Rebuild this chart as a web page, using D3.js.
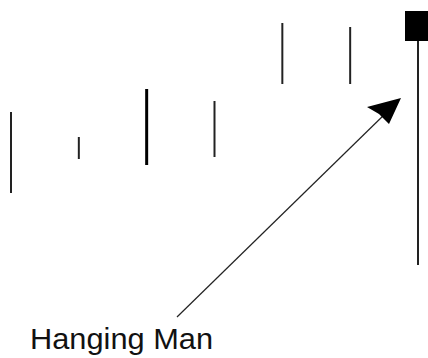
<!DOCTYPE html>
<html>
<head>
<meta charset="utf-8">
<script src="https://cdn.jsdelivr.net/npm/d3@7"></script>
<style>
html,body{margin:0;padding:0;background:#fff;}
svg{display:block;}
</style>
</head>
<body>
<svg id="chart" width="428" height="358"></svg>
<script>
// ---- data (price units; higher = up) ----
const sessions = ["1","2","3","4","5","6","7"];
const highs  = [246, 221, 269, 257, 335, 331, 347];
const lows   = [165, 199, 193, 201, 274, 274,  93];
const opens  = [205, 210, 230, 229, 305, 303, 347];
const closes = [205, 210, 230, 229, 305, 303, 317];
const weights = [2, 2, 3, 2, 2, 2, 2];
const annotationText = "Hanging Man";
const annotatedIndex = 6;

const W = 428, H = 358;
const svg = d3.select("#chart");

const x = d3.scalePoint().domain(sessions).range([11, 418]);
const y = d3.scaleLinear().domain([0, 358]).range([358, 0]);

const data = sessions.map((s, i) => ({
  s, high: highs[i], low: lows[i], open: opens[i], close: closes[i], w: weights[i]
}));

// wicks
svg.selectAll("line.wick").data(data).enter().append("line")
  .attr("class", "wick")
  .attr("x1", d => x(d.s)).attr("x2", d => x(d.s))
  .attr("y1", d => y(d.high)).attr("y2", d => y(d.low))
  .attr("stroke", d => d.w > 2 ? "#000" : "#222")
  .attr("stroke-width", d => d.w);

// bodies (only where open != close)
svg.selectAll("rect.body").data(data.filter(d => d.open !== d.close)).enter().append("rect")
  .attr("class", "body")
  .attr("x", d => x(d.s) - 13)
  .attr("width", 26)
  .attr("y", d => y(Math.max(d.open, d.close)))
  .attr("height", d => Math.abs(y(d.open) - y(d.close)))
  .attr("fill", "#000");

// annotation arrow
const target = data[annotatedIndex];
const tipX = x(target.s) - 17;
const tipY = y(target.close) + 57;
const startX = 177, startY = 317;

svg.append("line")
  .attr("x1", startX).attr("y1", startY)
  .attr("x2", tipX - 14).attr("y2", tipY + 14)
  .attr("stroke", "#222").attr("stroke-width", 1.2);

const head = d3.path();
head.moveTo(tipX, tipY);
head.lineTo(tipX - 34, tipY + 9);
head.lineTo(tipX - 22, tipY + 16);
head.lineTo(tipX - 12, tipY + 26);
head.closePath();
svg.append("path").attr("d", head.toString()).attr("fill", "#000");

svg.append("text")
  .attr("x", 30).attr("y", 349)
  .attr("font-family", "'Liberation Sans', Arial, sans-serif")
  .attr("font-size", 29)
  .attr("fill", "#111")
  .attr("textLength", 183)
  .attr("lengthAdjust", "spacingAndGlyphs")
  .text(annotationText);
</script>
</body>
</html>
